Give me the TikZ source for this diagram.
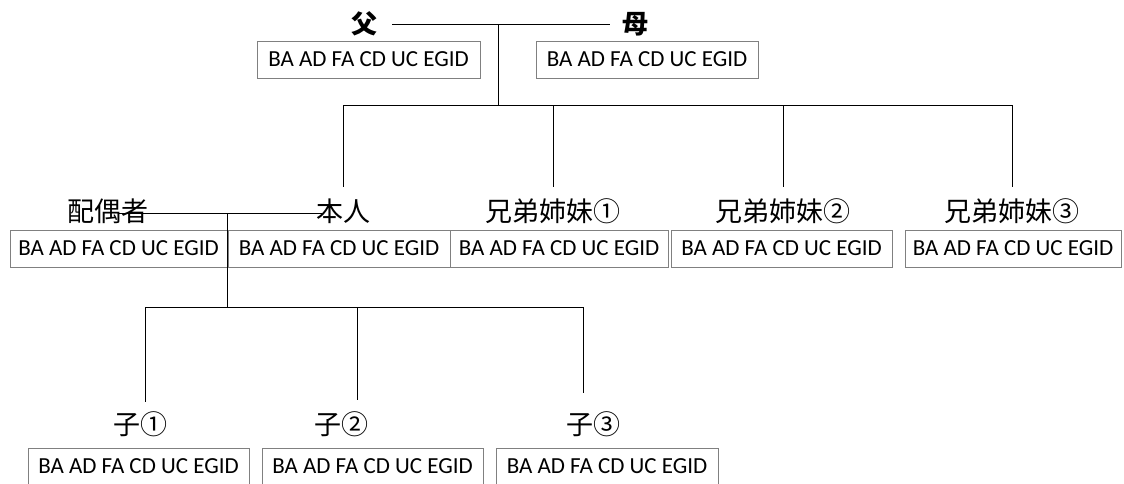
\documentclass[tikz,border=0pt]{standalone}
\usepackage{fontspec}
\newfontfamily\cjk{Noto Sans CJK JP}
\newfontfamily\boxfont{Carlito}
\begin{document}
\begin{tikzpicture}[x=1pt,y=-1pt,
  databox/.style={draw=black!50,line width=0.7pt,rectangle,inner sep=0pt,
    minimum height=37pt,font=\boxfont\fontsize{23}{27}\selectfont},
  lbl/.style={inner sep=0pt,text height=22pt,text depth=4pt,
    font=\cjk\fontsize{27}{31}\selectfont},
  toplbl/.style={lbl,font=\cjk\bfseries\fontsize{26}{30}\selectfont},
  conn/.style={draw=black,line width=1pt}]
\useasboundingbox[fill=white] (0,0) rectangle (1124,483);
% parents
\node[toplbl] (fa) at (364,24) {父};
\node[toplbl] (mo) at (635,24) {母};
\node[databox,minimum width=223pt] (fabox) at (368.5,59.5) {BA AD FA CD UC EGID};
\node[databox,minimum width=222pt] (mobox) at (647,59.5) {BA AD FA CD UC EGID};
% generation 2
\node[lbl] (sp) at (108,212) {配偶者};
\node[lbl] (hn) at (343,212) {本人};
\node[lbl] (s1) at (553,212) {兄弟姉妹①};
\node[lbl] (s2) at (783,212) {兄弟姉妹②};
\node[lbl] (s3) at (1012,212) {兄弟姉妹③};
\node[databox,minimum width=217pt] (spbox) at (118.5,248.5) {BA AD FA CD UC EGID};
\node[databox,minimum width=222pt] (hnbox) at (339,248.5) {BA AD FA CD UC EGID};
\node[databox,minimum width=218pt] (s1box) at (559,248.5) {BA AD FA CD UC EGID};
\node[databox,minimum width=221pt] (s2box) at (781.5,248.5) {BA AD FA CD UC EGID};
\node[databox,minimum width=216pt] (s3box) at (1013,248.5) {BA AD FA CD UC EGID};
% children
\node[lbl] (c1) at (140,425) {子①};
\node[lbl] (c2) at (341,425) {子②};
\node[lbl] (c3) at (593,425) {子③};
\node[databox,minimum width=221pt] (c1box) at (138.5,466.5) {BA AD FA CD UC EGID};
\node[databox,minimum width=221pt] (c2box) at (372.5,466.5) {BA AD FA CD UC EGID};
\node[databox,minimum width=222pt] (c3box) at (607,466.5) {BA AD FA CD UC EGID};
% connectors: parents
\coordinate (pj) at (498,24);
\coordinate (pbar) at (498,105);
\draw[conn] ([xshift=15pt]fa.east) -- ([xshift=-12pt]mo.west);
\draw[conn] (pj) -- (pbar);
\foreach \n in {hn,s1,s2,s3}
  \draw[conn] (pbar) -| ([yshift=12pt]\n.north);
% connectors: couple
\coordinate (cj) at (227,213);
\coordinate (cbar) at (227,307);
\coordinate (c1t) at (145,402);
\coordinate (c2t) at (357,400);
\coordinate (c3t) at (583,393);
\draw[conn] ([xshift=10pt,yshift=-1pt]sp.center) -- ([xshift=-21pt,yshift=-1pt]hn.center);
\draw[conn] (cj) -- (cbar);
\foreach \c in {c1t,c2t,c3t}
  \draw[conn] (cbar) -| (\c);
\end{tikzpicture}
\end{document}
